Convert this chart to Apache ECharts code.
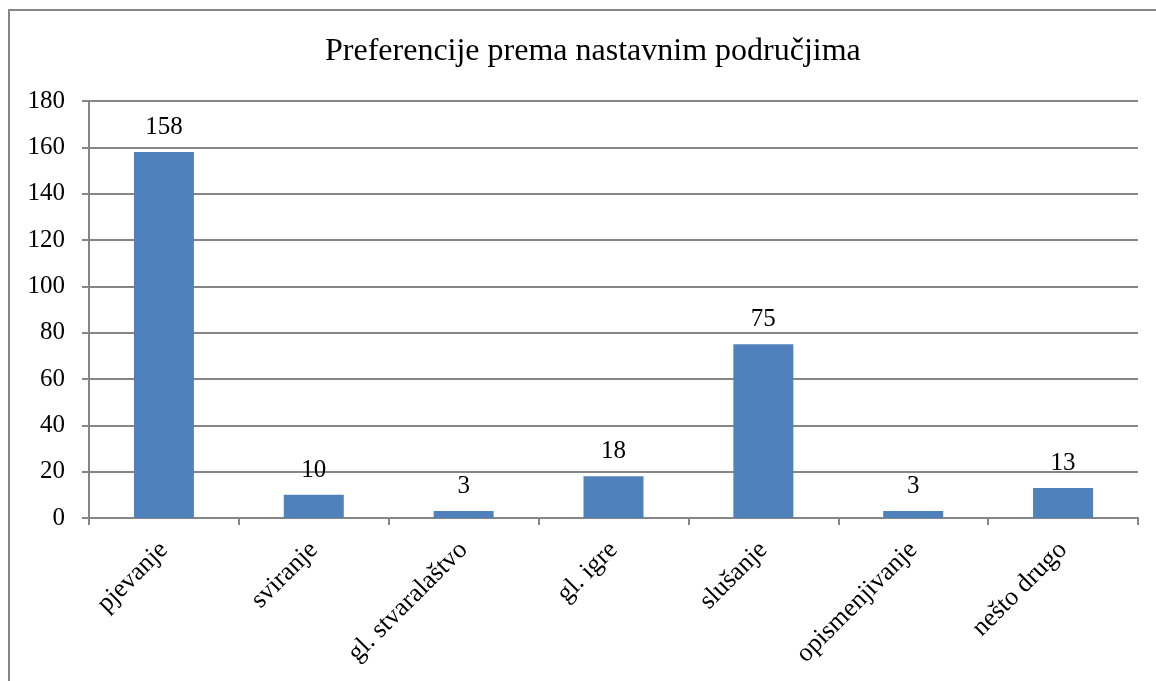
<!DOCTYPE html>
<html>
<head>
<meta charset="utf-8">
<script src="https://cdn.jsdelivr.net/npm/echarts@6/dist/echarts.min.js"></script>
<style>
  html, body { margin: 0; padding: 0; background: #fff; }
  #chart { width: 1156px; height: 681px; }
</style>
</head>
<body>
<div id="chart"></div>
<script>
// podaci
var categories = ["pjevanje", "sviranje", "gl. stvaralaštvo", "gl. igre", "slušanje", "opismenjivanje", "nešto drugo"];
var values = [158, 10, 3, 18, 75, 3, 13];
var titleText = "Preferencije prema nastavnim područjima";

var font = "'Liberation Serif', 'Times New Roman', serif";
var chart = echarts.init(document.getElementById("chart"));

chart.setOption({
  animation: false,
  backgroundColor: "#fff",
  title: {
    text: titleText,
    left: 320,
    top: 31,
    textStyle: { fontFamily: font, fontSize: 32, fontWeight: "normal", color: "#000" }
  },
  // okvir oko grafikona
  graphic: [{
    type: "rect",
    shape: { x: 9, y: 10, width: 1160, height: 700 },
    style: { fill: "none", stroke: "#868686", lineWidth: 2 },
    silent: true
  }],
  grid: { left: 89, right: 18, top: 101, bottom: 163 },
  xAxis: {
    type: "category",
    data: categories,
    axisLine: { lineStyle: { color: "#868686", width: 2 } },
    axisTick: { show: true, alignWithLabel: false, length: 7, lineStyle: { color: "#868686", width: 2 } },
    axisLabel: {
      rotate: 45,
      interval: 0,
      margin: 28,
      fontFamily: font,
      fontSize: 26,
      color: "#000"
    }
  },
  yAxis: {
    type: "value",
    min: 0,
    max: 180,
    interval: 20,
    axisLine: { show: true, lineStyle: { color: "#868686", width: 2 } },
    axisTick: { show: true, length: 7, lineStyle: { color: "#868686", width: 2 } },
    splitLine: { lineStyle: { color: "#868686", width: 2 } },
    axisLabel: { fontFamily: font, fontSize: 25, color: "#000", margin: 24 }
  },
  series: [{
    type: "bar",
    data: values,
    barWidth: 60,
    itemStyle: { color: "#4f81bd" },
    label: {
      show: true,
      position: "top",
      distance: 12,
      fontFamily: font,
      fontSize: 25,
      color: "#000"
    }
  }]
});
</script>
</body>
</html>
